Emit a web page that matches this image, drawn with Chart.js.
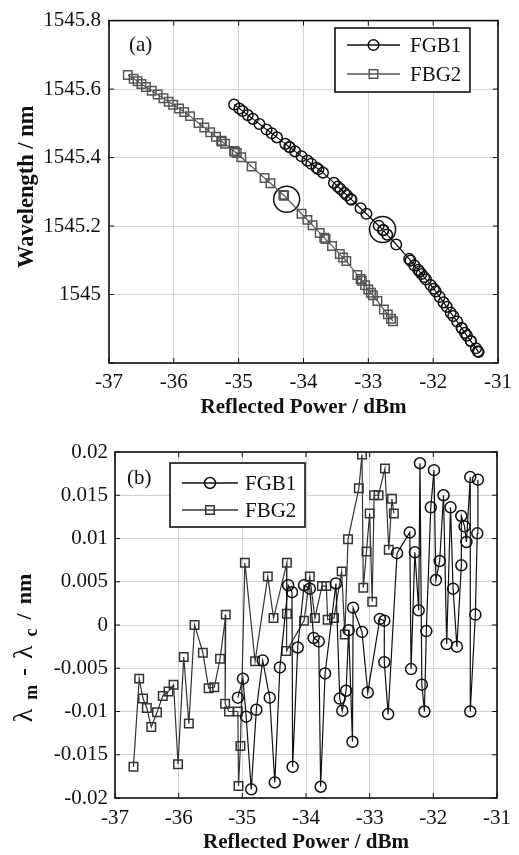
<!DOCTYPE html>
<html>
<head>
<meta charset="utf-8">
<script src="https://cdn.jsdelivr.net/npm/chart.js@4.4.0/dist/chart.umd.min.js"></script>
<style>
  html, body { margin: 0; padding: 0; background: #fff; }
  #wrap { position: relative; width: 519px; height: 855px; }
  #chartA { position: absolute; left: 0; top: 0; width: 519px; height: 430px; }
  #chartB { position: absolute; left: 0; top: 430px; width: 519px; height: 425px; }
</style>
</head>
<body>
<div id="wrap">
  <canvas id="chartA" width="519" height="430"></canvas>
  <canvas id="chartB" width="519" height="425"></canvas>
</div>
<script>
'use strict';

// FGB1: reflected power (dBm), measured wavelength (nm), residual (nm)
const powers1 = [-35.07, -34.99, -34.94, -34.86, -34.78, -34.68, -34.57, -34.49, -34.41, -34.28,
  -34.22, -34.21, -34.13, -34.03, -33.94, -33.88, -33.80, -33.77, -33.70, -33.53,
  -33.47, -33.43, -33.37, -33.33, -33.27, -33.26, -33.12, -33.03, -32.84, -32.77,
  -32.77, -32.71, -32.57, -32.37, -32.35, -32.29, -32.23, -32.21, -32.18, -32.14,
  -32.11, -32.04, -31.99, -31.96, -31.90, -31.84, -31.79, -31.73, -31.69, -31.63,
  -31.56, -31.56, -31.51, -31.48, -31.42, -31.42, -31.34, -31.31, -31.30];
const wavelength1 = [1545.555, 1545.543, 1545.536, 1545.524, 1545.513, 1545.498, 1545.482, 1545.471, 1545.459, 1545.440,
  1545.431, 1545.430, 1545.418, 1545.404, 1545.391, 1545.382, 1545.370, 1545.366, 1545.356, 1545.326,
  1545.315, 1545.308, 1545.297, 1545.290, 1545.279, 1545.277, 1545.252, 1545.236, 1545.201, 1545.188,
  1545.188, 1545.175, 1545.146, 1545.104, 1545.099, 1545.085, 1545.072, 1545.067, 1545.060, 1545.051,
  1545.044, 1545.028, 1545.017, 1545.009, 1544.993, 1544.977, 1544.964, 1544.947, 1544.937, 1544.921,
  1544.902, 1544.902, 1544.888, 1544.880, 1544.864, 1544.864, 1544.843, 1544.834, 1544.832];
const residual1 = [-0.0084, -0.0062, -0.0106, -0.0190, -0.0098, -0.0041, -0.0084, -0.0182, -0.0049, 0.0046,
  0.0038, -0.0164, -0.0026, 0.0046, 0.0042, -0.0015, -0.0019, -0.0187, -0.0056, 0.0048,
  -0.0085, -0.0099, -0.0076, -0.0006, -0.0135, 0.0020, -0.0008, -0.0078, 0.0007, 0.0005,
  -0.0043, -0.0103, 0.0083, 0.0107, -0.0051, 0.0084, 0.0017, 0.0187, -0.0069, -0.0100,
  -0.0007, 0.0136, 0.0179, 0.0052, 0.0074, 0.0150, -0.0022, 0.0136, 0.0042, -0.0025,
  0.0069, 0.0126, 0.0114, 0.0096, 0.0171, -0.0100, 0.0012, 0.0106, 0.0168];

// FBG2
const powers2 = [-36.71, -36.62, -36.56, -36.50, -36.43, -36.34, -36.25, -36.16, -36.08, -36.01,
  -35.92, -35.84, -35.75, -35.62, -35.53, -35.44, -35.35, -35.26, -35.27, -35.21,
  -35.07, -35.06, -35.03, -34.96, -34.80, -34.60, -34.51, -34.30, -34.30, -34.31,
  -34.03, -33.94, -33.86, -33.75, -33.68, -33.66, -33.56, -33.44, -33.39, -33.34,
  -33.17, -33.12, -33.10, -33.05, -33.00, -32.96, -32.93, -32.86, -32.76, -32.70,
  -32.65, -32.62];
const wavelength2 = [1545.641, 1545.630, 1545.623, 1545.615, 1545.606, 1545.595, 1545.584, 1545.573, 1545.563, 1545.554,
  1545.543, 1545.533, 1545.521, 1545.501, 1545.488, 1545.474, 1545.461, 1545.447, 1545.449, 1545.440,
  1545.419, 1545.417, 1545.413, 1545.401, 1545.374, 1545.340, 1545.325, 1545.289, 1545.289, 1545.291,
  1545.236, 1545.218, 1545.202, 1545.180, 1545.166, 1545.162, 1545.142, 1545.118, 1545.108, 1545.098,
  1545.057, 1545.045, 1545.040, 1545.027, 1545.015, 1545.005, 1544.998, 1544.981, 1544.956, 1544.942,
  1544.929, 1544.922];
const residual2 = [-0.0164, -0.0062, -0.0085, -0.0096, -0.0118, -0.0101, -0.0082, -0.0077, -0.0069, -0.0161,
  -0.0037, -0.0114, 0.0000, -0.0032, -0.0073, -0.0072, -0.0039, 0.0012, -0.0091, -0.0100,
  -0.0100, -0.0186, -0.0140, 0.0072, -0.0042, 0.0056, 0.0008, 0.0072, 0.0013, -0.0030,
  0.0005, 0.0056, 0.0008, 0.0045, 0.0045, 0.0006, 0.0008, 0.0062, -0.0011, 0.0099,
  0.0158, 0.0197, 0.0043, 0.0085, 0.0129, 0.0027, 0.0150, 0.0150, 0.0181, 0.0087,
  0.0146, 0.0129];

// the two points ringed in panel (a)
const markedPower = [-34.26, -32.78];
const markedWavelength = [1545.278, 1545.190];

const powerTicks = [-37, -36, -35, -34, -33, -32, -31];
const wavelengthTicks = [1544.8, 1545, 1545.2, 1545.4, 1545.6, 1545.8];
const residualTicks = [-0.02, -0.015, -0.01, -0.005, 0, 0.005, 0.01, 0.015, 0.02];

const serif = "'Liberation Serif', 'Times New Roman', serif";
Chart.defaults.font.family = serif;
Chart.defaults.color = '#111';

function pairUp(xs, ys) {
  return xs.map((x, i) => ({ x: x, y: ys[i] }));
}

function drawMarker(ctx, style, x, y, r) {
  ctx.beginPath();
  if (style === 'rect') {
    const s = r * Math.SQRT1_2;
    ctx.rect(x - s, y - s, 2 * s, 2 * s);
  } else {
    ctx.arc(x, y, r, 0, Math.PI * 2);
  }
  ctx.stroke();
}

// black box round the plot with MATLAB-style inward ticks
const framePlugin = {
  id: 'frame',
  afterDatasetsDraw(chart) {
    const { ctx, chartArea: a, scales } = chart;
    ctx.save();
    ctx.strokeStyle = '#111';
    ctx.lineWidth = 1;
    ctx.beginPath();
    scales.x.ticks.forEach(t => {
      const px = scales.x.getPixelForValue(t.value);
      ctx.moveTo(px, a.bottom); ctx.lineTo(px, a.bottom - 5);
      ctx.moveTo(px, a.top); ctx.lineTo(px, a.top + 5);
    });
    scales.y.ticks.forEach(t => {
      const py = scales.y.getPixelForValue(t.value);
      ctx.moveTo(a.left, py); ctx.lineTo(a.left + 5, py);
      ctx.moveTo(a.right, py); ctx.lineTo(a.right - 5, py);
    });
    ctx.stroke();
    ctx.lineWidth = 1.6;
    ctx.strokeRect(a.left, a.top, a.right - a.left, a.bottom - a.top);
    ctx.restore();
  }
};

const boxLegendPlugin = {
  id: 'boxLegend',
  afterDraw(chart, args, o) {
    const ctx = chart.ctx;
    ctx.save();
    ctx.fillStyle = '#fff';
    ctx.fillRect(o.left, o.top, o.width, o.height);
    ctx.strokeStyle = '#111';
    ctx.lineWidth = 1.6;
    ctx.strokeRect(o.left, o.top, o.width, o.height);
    const items = chart.data.datasets.filter(d => !d.noLegend);
    items.forEach((d, i) => {
      const y = o.rows[i];
      ctx.strokeStyle = d.borderColor;
      ctx.lineWidth = 1.3;
      ctx.beginPath();
      ctx.moveTo(o.lineStart, y);
      ctx.lineTo(o.lineEnd, y);
      ctx.stroke();
      ctx.lineWidth = d.pointBorderWidth;
      drawMarker(ctx, d.pointStyle, (o.lineStart + o.lineEnd) / 2, y, d.pointRadius);
      ctx.fillStyle = '#111';
      ctx.font = '21px ' + serif;
      ctx.textBaseline = 'middle';
      ctx.textAlign = 'left';
      ctx.fillText(d.label, o.textX, y + 1);
    });
    ctx.restore();
  }
};

const panelLabelPlugin = {
  id: 'panelLabel',
  afterDraw(chart, args, o) {
    const ctx = chart.ctx;
    ctx.save();
    ctx.fillStyle = '#111';
    ctx.font = '21px ' + serif;
    ctx.textBaseline = 'middle';
    ctx.fillText(o.text, o.x, o.y);
    ctx.restore();
  }
};

// rotated y title drawn piece by piece so subscripts and mixed fonts work
const sideTitlePlugin = {
  id: 'sideTitle',
  afterDraw(chart, args, o) {
    if (!o.parts) return;
    const ctx = chart.ctx;
    const a = chart.chartArea;
    const fontOf = p => (p.bold === false ? '' : 'bold ') + p.size + 'px ' + serif;
    const gap = o.gap || 0;
    ctx.save();
    ctx.translate(o.x, (a.top + a.bottom) / 2 + (o.shift || 0));
    ctx.rotate(-Math.PI / 2);
    ctx.fillStyle = '#111';
    ctx.textBaseline = 'middle';
    let total = 0;
    o.parts.forEach(p => { ctx.font = fontOf(p); total += ctx.measureText(p.text).width + gap; });
    total -= gap;
    let cx = -total / 2;
    o.parts.forEach(p => {
      ctx.font = fontOf(p);
      ctx.fillText(p.text, cx, p.sub ? 7 : 0);
      cx += ctx.measureText(p.text).width + gap;
    });
    ctx.restore();
  }
};

function powerAxis(height, pad, titlePad) {
  return {
    type: 'linear',
    min: -37,
    max: -31,
    afterBuildTicks: s => { s.ticks = powerTicks.map(v => ({ value: v })); },
    afterFit: s => { s.height = height; },
    grid: { color: '#d2d2d2', lineWidth: 1, drawTicks: false },
    border: { display: false },
    ticks: { padding: pad, font: { size: 21 }, color: '#111', callback: v => String(v) },
    title: { display: true, text: 'Reflected Power / dBm', font: { size: 21, weight: 'bold', lineHeight: 1.2 }, color: '#111', padding: { top: 0, bottom: titlePad } }
  };
}

function lineSet(label, xs, ys, color, style, radius) {
  return {
    label: label,
    data: pairUp(xs, ys),
    showLine: true,
    borderColor: color,
    borderWidth: 1.2,
    pointStyle: style,
    pointRadius: radius,
    pointBorderWidth: 1.5,
    pointBorderColor: color,
    pointBackgroundColor: 'rgba(0,0,0,0)',
    tension: 0
  };
}

const baseOptions = {
  responsive: false,
  animation: false,
  events: [],
  plugins: { legend: { display: false }, tooltip: { enabled: false } }
};

new Chart(document.getElementById('chartA'), {
  type: 'scatter',
  data: {
    datasets: [
      lineSet('FGB1', powers1, wavelength1, '#111', 'circle', 5.3),
      lineSet('FBG2', powers2, wavelength2, '#555', 'rect', 6),
      Object.assign(lineSet('marked', markedPower, markedWavelength, '#111', 'circle', 13), { showLine: false, noLegend: true })
    ]
  },
  options: Object.assign({}, baseOptions, {
    layout: { padding: { top: 16, right: 16, left: 0, bottom: 0 } },
    scales: {
      x: powerAxis(67, 7, 10),
      y: {
        type: 'linear',
        min: 1544.8,
        max: 1545.8,
        afterBuildTicks: s => { s.ticks = wavelengthTicks.map(v => ({ value: v })); },
        afterFit: s => { s.width = 109; },
        grid: { color: '#d2d2d2', lineWidth: 1, drawTicks: false },
        border: { display: false },
        ticks: { padding: 8, font: { size: 21 }, color: '#111', callback: v => (Math.abs(v - 1544.8) < 1e-6 ? '' : String(+v.toFixed(1))) },
        title: { display: false }
      }
    },
    plugins: Object.assign({}, baseOptions.plugins, {
      boxLegend: { left: 335, top: 28, width: 135, height: 64, lineStart: 347, lineEnd: 400, textX: 410, rows: [45, 74] },
      panelLabel: { text: '(a)', x: 129, y: 45 },
      sideTitle: { x: 27, shift: -5, parts: [{ text: 'Wavelength / nm', size: 22.5 }] }
    })
  }),
  plugins: [framePlugin, boxLegendPlugin, panelLabelPlugin, sideTitlePlugin]
});

new Chart(document.getElementById('chartB'), {
  type: 'scatter',
  data: {
    datasets: [
      lineSet('FGB1', powers1, residual1, '#111', 'circle', 5.5),
      lineSet('FBG2', powers2, residual2, '#333', 'rect', 6)
    ]
  },
  options: Object.assign({}, baseOptions, {
    layout: { padding: { top: 22, right: 16, left: 0, bottom: 0 } },
    scales: {
      x: powerAxis(57, 8, 0),
      y: {
        type: 'linear',
        min: -0.02,
        max: 0.02,
        afterBuildTicks: s => { s.ticks = residualTicks.map(v => ({ value: v })); },
        afterFit: s => { s.width = 115; },
        grid: { color: '#d2d2d2', lineWidth: 1, drawTicks: false },
        border: { display: false },
        ticks: { padding: 7, font: { size: 21 }, color: '#111', callback: v => String(+v.toFixed(4)) },
        title: { display: false }
      }
    },
    plugins: Object.assign({}, baseOptions.plugins, {
      boxLegend: { left: 170, top: 33, width: 135, height: 64, lineStart: 182, lineEnd: 238, textX: 245, rows: [53, 80] },
      panelLabel: { text: '(b)', x: 127, y: 48 },
      sideTitle: {
        x: 25, shift: 23, gap: 9,
        parts: [
          { text: 'λ', size: 28, bold: false },
          { text: 'm', size: 18, sub: true },
          { text: '-', size: 23 },
          { text: 'λ', size: 28, bold: false },
          { text: 'c', size: 18, sub: true },
          { text: '/', size: 22 },
          { text: 'nm', size: 22 }
        ]
      }
    })
  }),
  plugins: [framePlugin, boxLegendPlugin, panelLabelPlugin, sideTitlePlugin]
});
</script>
</body>
</html>
